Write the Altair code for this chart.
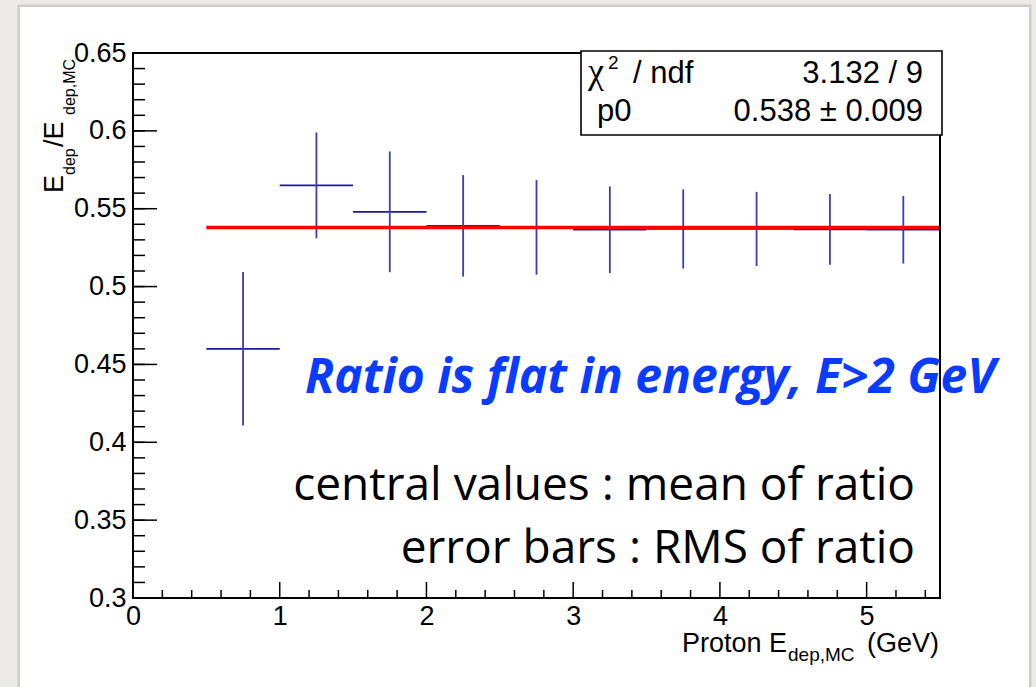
import altair as alt
import pandas as pd

# ---------------- data ----------------
bin_low = [0.5, 1.0, 1.5, 2.0, 2.5, 3.0, 3.5, 4.0, 4.5, 5.0]
bin_high = [1.0, 1.5, 2.0, 2.5, 3.0, 3.5, 4.0, 4.5, 5.0, 5.5]
bin_center = [0.75, 1.25, 1.75, 2.25, 2.75, 3.25, 3.75, 4.25, 4.75, 5.25]
ratio_mean = [0.460, 0.565, 0.548, 0.539, 0.538, 0.5365, 0.537, 0.537, 0.5367, 0.5365]
ratio_rms = [0.0493, 0.034, 0.0388, 0.0326, 0.0304, 0.0278, 0.0254, 0.0238, 0.0227, 0.0217]

fit_range = [0.5, 5.5]
fit_p0 = 0.538

x_major = [0, 1, 2, 3, 4, 5]
x_minor = [0.2, 0.4, 0.6, 0.8, 1.2, 1.4, 1.6, 1.8, 2.2, 2.4, 2.6, 2.8, 3.2, 3.4, 3.6, 3.8,
           4.2, 4.4, 4.6, 4.8, 5.2, 5.4]
y_major = [0.3, 0.35, 0.4, 0.45, 0.5, 0.55, 0.6, 0.65]
y_minor = [round(0.30 + 0.01 * i, 2) for i in range(36)]

stats_left = ["p0"]
stats_right = ["3.132 / 9", "0.538 \u00b1 0.009"]

# ---------------- layout ----------------
W, H = 807, 545
PAD = {"left": 133, "top": 53, "right": 96, "bottom": 89}
FONT = "Liberation Sans"

xscale = alt.Scale(domain=[0, 5.5], nice=False, zero=False)
yscale = alt.Scale(domain=[0.3, 0.65], nice=False, zero=False)
xaxis = alt.Axis(values=x_major, format="d", ticks=False, domain=False, grid=False,
                 labelFont=FONT, labelFontSize=27, labelColor="black", labelPadding=5,
                 labelFlush=False, labelOverlap=False, title=None, zindex=2)
yaxis = alt.Axis(values=y_major, format=".2~f", ticks=False, domain=False, grid=False,
                 labelFont=FONT, labelFontSize=27, labelColor="black", labelPadding=7,
                 labelFlush=False, labelOverlap=False, title=None, zindex=2)


def X(f):
    return alt.X(f, type="quantitative", scale=xscale, axis=xaxis)


def Y(f):
    return alt.Y(f, type="quantitative", scale=yscale, axis=yaxis)


pts = pd.DataFrame({
    "xlo": bin_low, "xhi": bin_high, "xc": bin_center,
    "y": ratio_mean,
    "ylo": [m - r for m, r in zip(ratio_mean, ratio_rms)],
    "yhi": [m + r for m, r in zip(ratio_mean, ratio_rms)],
})
one = pd.DataFrame({"a": [0]})

card_shadow = alt.Chart(one).mark_rect(fillOpacity=0, stroke="#cfcdc7", strokeWidth=5).encode(
    x=alt.value(-113), x2=alt.value(896), y=alt.value(-46), y2=alt.value(660))
card = alt.Chart(one).mark_rect(fill="white").encode(
    x=alt.value(-113), x2=alt.value(896), y=alt.value(-46), y2=alt.value(660))

hbars = alt.Chart(pts).mark_rule(color="#1a1a9e", strokeWidth=1.6).encode(
    x=X("xlo"), x2="xhi", y=Y("y"))
vbars = alt.Chart(pts).mark_rule(color="#3c3cb8", strokeWidth=1.8).encode(
    x=X("xc"), y=Y("ylo"), y2="yhi")

fit_df = pd.DataFrame({"x0": [fit_range[0]], "x1": [fit_range[1]], "p0": [fit_p0]})
fit = alt.Chart(fit_df).mark_rule(color="#ff0000", strokeWidth=3.5).encode(
    x=X("x0"), x2="x1", y=Y("p0"))

ymaj = alt.Chart(pd.DataFrame({"v": y_major})).mark_rule(color="black", strokeWidth=1.5).encode(
    y=Y("v"), x=alt.value(0), x2=alt.value(24))
ymin = alt.Chart(pd.DataFrame({"v": y_minor})).mark_rule(color="black", strokeWidth=1.5).encode(
    y=Y("v"), x=alt.value(0), x2=alt.value(12))
xmaj = alt.Chart(pd.DataFrame({"v": x_major})).mark_rule(color="black", strokeWidth=1.5).encode(
    x=X("v"), y=alt.value(H), y2=alt.value(H - 16))
xmin = alt.Chart(pd.DataFrame({"v": x_minor})).mark_rule(color="black", strokeWidth=1.5).encode(
    x=X("v"), y=alt.value(H), y2=alt.value(H - 8))

frame = alt.Chart(one).mark_rect(fillOpacity=0, stroke="black", strokeWidth=2).encode(
    x=alt.value(0), x2=alt.value(W), y=alt.value(0), y2=alt.value(H))

# stats box
box = alt.Chart(one).mark_rect(fill="white", stroke="black", strokeWidth=1.6).encode(
    x=alt.value(448), x2=alt.value(809), y=alt.value(-2), y2=alt.value(82))


def txt(s, x, y, size, align="left", angle=0, baseline="alphabetic", font=FONT,
        color="black", style=None, weight=None):
    kw = dict(text=s, align=align, baseline=baseline, font=font, fontSize=size, color=color)
    if angle:
        kw["angle"] = angle
    if style:
        kw["fontStyle"] = style
    if weight:
        kw["fontWeight"] = weight
    return alt.Chart(one).mark_text(**kw).encode(x=alt.value(x), y=alt.value(y))


texts = [
    # stats box
    txt("\u03c7", 455, 30, 36, font="Liberation Serif"),
    txt("2", 475, 16, 19),
    txt("/ ndf", 500, 30, 31),
    txt(stats_left[0], 464, 68, 31),
    txt(stats_right[0], 790, 30, 31, align="right"),
    txt(stats_right[1], 790, 68, 31, align="right"),
    # x title
    txt("Proton E", 654, 599, 27, align="right"),
    txt("dep,MC", 655, 608, 19),
    txt("(GeV)", 734, 599, 27),
    # y title (rotated)
    txt("E", -70, 140, 27, angle=270),
    txt("dep", -58, 122, 16, angle=270),
    txt("/E", -70, 94, 27, angle=270),
    txt("dep,MC", -58, 62, 16, angle=270),
    # annotations
    txt("Ratio is flat in energy, E>2 GeV", 172, 340, 48, font="Open Sans", color="#0a3cff",
        style="italic", weight="bold"),
    txt("central values : mean of ratio", 782, 447, 46, align="right", font="Open Sans"),
    txt("error bars : RMS of ratio", 782, 510, 46, align="right", font="Open Sans"),
]

chart = alt.layer(
    card_shadow, card, hbars, vbars, fit, ymin, ymaj, xmin, xmaj, frame, box, *texts
).properties(
    width=W, height=H,
    autosize=alt.AutoSizeParams(type="none"),
    padding=PAD,
    background="#ebeae6",
).configure_view(stroke=None)

chart.save("out.html", embed_options={"renderer": "svg", "actions": False})
